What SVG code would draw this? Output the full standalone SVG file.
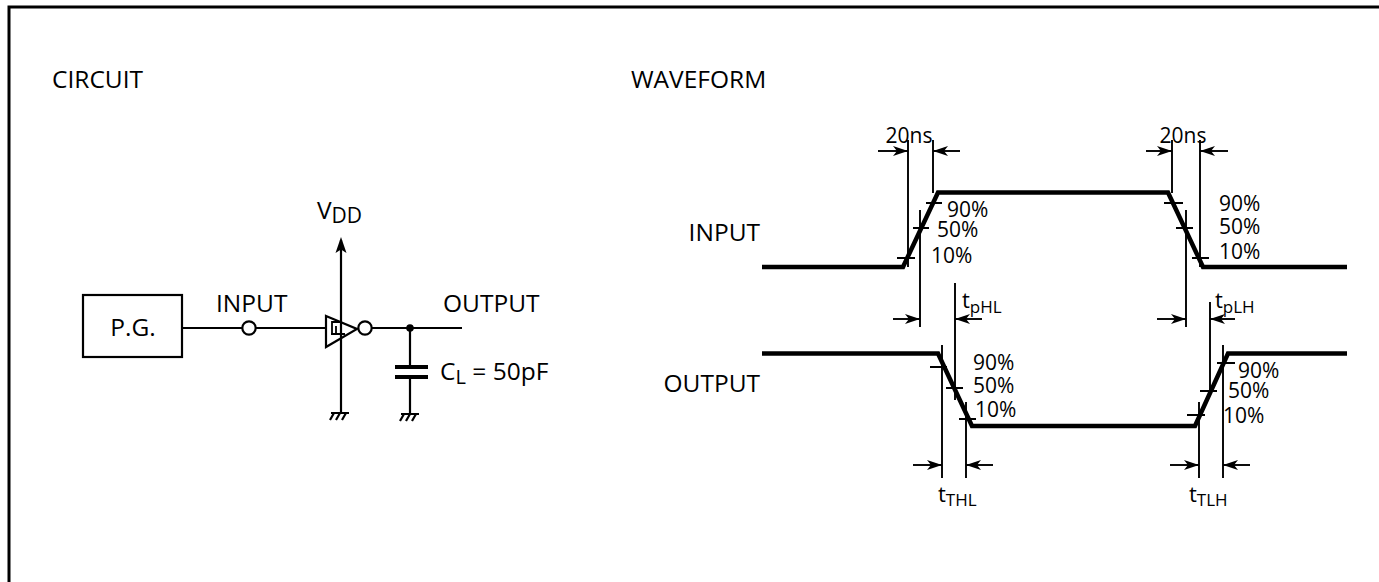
<svg xmlns="http://www.w3.org/2000/svg" width="1379" height="582" viewBox="0 0 1379 582">
<style>
text{font-family:"Open Sans","Noto Sans","Liberation Sans",sans-serif;fill:#000}
.lbl{font-size:24.5px}
.pct{font-size:21px}
.t{font-size:22px}
.sub{font-size:17px}
.w{stroke:#000;stroke-width:2.2;fill:none}
.dim{stroke:#000;stroke-width:1.9;fill:none}
.arr{stroke:#000;stroke-width:1.9;fill:none;marker-end:url(#ah)}
.wave{stroke:#000;stroke-width:4.5;fill:none;stroke-linejoin:miter}
.tick{stroke:#000;stroke-width:2;fill:none}
</style>
<defs>
<marker id="ah" markerUnits="userSpaceOnUse" markerWidth="18" markerHeight="12" viewBox="-16 -6 17 12" refX="0" refY="0" orient="auto">
<path d="M0,0 L-15,-5 L-11,0 L-15,5 Z" fill="#000"/>
</marker>
<g id="gnd">
<path d="M-9,0 H9 M-6,0 L-10,7 M0,0 L-4,7 M6,0 L2,7" stroke="#000" stroke-width="2.2" fill="none"/>
</g>
</defs>
<rect width="1379" height="582" fill="#fff"/>
<path d="M9,582 V7 H1379" stroke="#000" stroke-width="3" fill="none"/>

<g id="headings">
<text class="lbl" x="52" y="88">CIRCUIT</text>
<text class="lbl" x="631" y="88">WAVEFORM</text>
</g>

<g id="pg">
<rect x="83" y="295" width="99" height="62" class="w"/>
<text class="lbl" x="133" y="336" text-anchor="middle">P.G.</text>
</g>
<g id="input-terminal">
<circle cx="249" cy="328" r="6.7" class="w" fill="#fff"/>
<text class="lbl" x="216" y="312">INPUT</text>
</g>
<g id="gate">
<path d="M326,316 L357,329 L326,347 Z" class="w" fill="#fff"/>
<path d="M331,334 H345 M332,334 V322 H341 M336,326 V334" stroke="#000" stroke-width="1.8" fill="none"/>
<circle cx="365" cy="328" r="6.7" class="w" fill="#fff"/>
</g>
<g id="vdd">
<text class="lbl" x="317" y="219">V<tspan font-size="21" dy="4">DD</tspan></text>
</g>
<g id="output-terminal">
<text class="lbl" x="443" y="312">OUTPUT</text>
</g>
<g id="cap">
<path d="M395,367 H428 M395,377 H428" stroke="#000" stroke-width="4" fill="none"/>
<text class="lbl" x="440" y="380">C<tspan font-size="20" dy="4">L</tspan><tspan dy="-4"> = 50pF</tspan></text>
</g>
<g id="circuit-wires">
<path d="M182,328 H242.3 M255.7,328 H326 M371.7,328 H462" class="w"/>
<path d="M341,413 V240" class="w"/>
<path d="M341,237 L335.5,253 L341,249.5 L346.5,253 Z" fill="#000"/>
<path d="M410,328 V367 M410,377 V414" class="w"/>
<circle cx="410" cy="328" r="3.8" fill="#000"/>
<use href="#gnd" x="340" y="413"/>
<use href="#gnd" x="410" y="414"/>
</g>

<g id="wave-labels">
<text class="lbl" x="760" y="241" text-anchor="end">INPUT</text>
<text class="lbl" x="760" y="392" text-anchor="end">OUTPUT</text>
</g>
<g id="input-wave">
<path d="M762,267 H903 L938,192.5 H1168 L1203,267 H1347" class="wave"/>
<path d="M926,203 H942 M913,228 H929 M897,258 H915" class="tick"/>
<path d="M1164,203 H1183 M1176,228 H1193 M1192,258 H1209" class="tick"/>
<text class="pct" x="947" y="217">90%</text>
<text class="pct" x="937" y="237">50%</text>
<text class="pct" x="931" y="263">10%</text>
<text class="pct" x="1219" y="211">90%</text>
<text class="pct" x="1219" y="234">50%</text>
<text class="pct" x="1219" y="259">10%</text>
</g>
<g id="output-wave">
<path d="M762,353.5 H938 L972,426 H1195 L1228,353.5 H1347" class="wave"/>
<path d="M930,367 H947 M946,388 H963 M959,419 H976" class="tick"/>
<path d="M1217,363 H1235 M1200,391 H1217 M1187,415 H1205" class="tick"/>
<text class="pct" x="973" y="370">90%</text>
<text class="pct" x="973" y="393">50%</text>
<text class="pct" x="975" y="417">10%</text>
<text class="pct" x="1238" y="378">90%</text>
<text class="pct" x="1228" y="398">50%</text>
<text class="pct" x="1223" y="423">10%</text>
</g>
<g id="dimension-lines">
<path d="M908,140 V267 M933,140 V193 M920,210 V327 M955,283 V400 M942,345 V478 M966,402 V478" class="dim"/>
<path d="M1172,140 V193 M1200,140 V267 M1186,210 V327 M1210,302 V390 M1199,402 V478 M1223,345 V478" class="dim"/>
<path d="M878,151 H908" class="arr"/>
<path d="M960,151 H933" class="arr"/>
<path d="M1146,151 H1172" class="arr"/>
<path d="M1228,151 H1200" class="arr"/>
<path d="M893,319 H920" class="arr"/>
<path d="M982,319 H955" class="arr"/>
<path d="M1157,319 H1186" class="arr"/>
<path d="M1235,319 H1210" class="arr"/>
<path d="M913,465 H942" class="arr"/>
<path d="M993,465 H966" class="arr"/>
<path d="M1170,465 H1199" class="arr"/>
<path d="M1250,465 H1223" class="arr"/>
</g>
<g id="dimension-labels">
<text class="pct" x="909" y="143" text-anchor="middle">20ns</text>
<text class="pct" x="1183" y="143" text-anchor="middle">20ns</text>
<text class="t" x="962" y="308">t<tspan class="sub" dy="5">pHL</tspan></text>
<text class="t" x="1215" y="308">t<tspan class="sub" dy="5">pLH</tspan></text>
<text class="t" x="938" y="502">t<tspan class="sub" dy="4">THL</tspan></text>
<text class="t" x="1189" y="502">t<tspan class="sub" dy="4">TLH</tspan></text>
</g>
</svg>
